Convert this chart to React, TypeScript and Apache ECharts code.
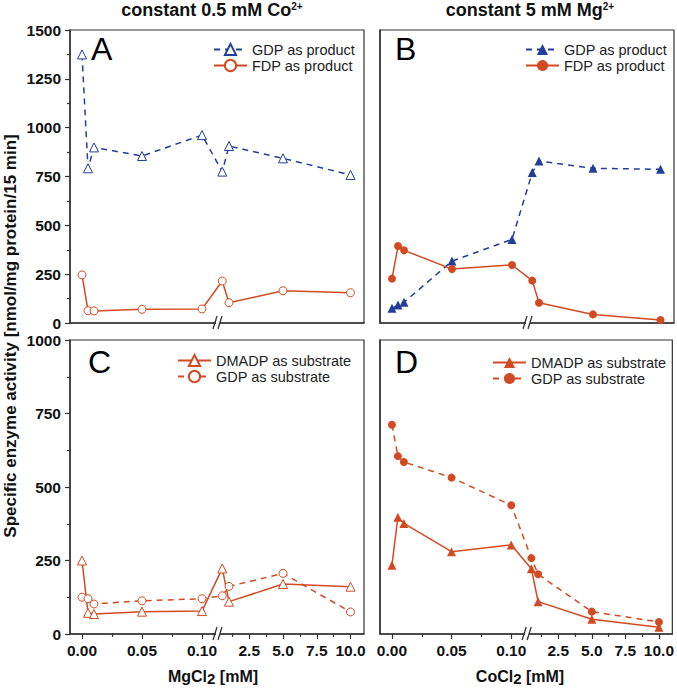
import React, { useEffect, useRef } from "react";
import * as echarts from "echarts";

// ---------- data ----------
const xValues = [0, 0.005, 0.01, 0.05, 0.1, 0.5, 1, 5, 10];

const aGdpProduct = [1375, 792, 899, 855, 962, 775, 906, 843, 758];
const aFdpProduct = [246, 63, 62, 70, 72, 215, 104, 165, 155];
const bGdpProduct = [75, 92, 106, 317, 428, 770, 829, 792, 787];
const bFdpProduct = [227, 394, 372, 276, 297, 217, 104, 44, 15];
const cDmadpSubstrate = [250, 72, 68, 76, 78, 223, 110, 170, 161];
const cGdpSubstrate = [125, 120, 102, 113, 120, 130, 162, 206, 75];
const dDmadpSubstrate = [234, 397, 376, 280, 303, 222, 110, 50, 23];
const dGdpSubstrate = [712, 605, 585, 532, 438, 258, 203, 76, 41];

const xTicksLeft = [0, 0.05, 0.1];
const xTickLabelsLeft = ["0.00", "0.05", "0.10"];
const xTicksRight = [2.5, 5, 7.5, 10];
const xTickLabelsRight = ["2.5", "5.0", "7.5", "10.0"];
const xMinorTicks = [0.025, 0.075, 1.25, 3.75, 6.25, 8.75];

const yMaxTop = 1500;
const yMaxBottom = 1000;
const yInterval = 250;

const titles = ["constant 0.5 mM Co", "constant 5 mM Mg"];
const panelLetters = ["A", "B", "C", "D"];
const yName = "Specific enzyme activity [nmol/mg protein/15 min]";

// ---------- broken axis scale ----------
const LEFT_OFFSET = 0.01;
const LEFT_SCALE = 1200;
const RIGHT_START = 145.5;
const RIGHT_SCALE = 13.5;
const AXIS_MAX = 294;
const BREAK_AT = 148;
const toAxis = (v: number) =>
  v <= 0.11 ? (v + LEFT_OFFSET) * LEFT_SCALE : RIGHT_START + v * RIGHT_SCALE;

const majorTicks = [...xTicksLeft, ...xTicksRight].map(toAxis);
const majorLabels = [...xTickLabelsLeft, ...xTickLabelsRight];
const minorTicks = xMinorTicks.map(toAxis);

const BLUE = "#223f97";
const RED = "#d24a22";
const AXIS = "#333";
const FONT = "'Liberation Sans', Arial, Helvetica, sans-serif";

const grids = [
  { left: 70, top: 30, width: 294, height: 293 },
  { left: 380, top: 30, width: 294, height: 293 },
  { left: 70, top: 340, width: 294, height: 294 },
  { left: 380, top: 340, width: 294, height: 294 },
];

function labelFor(v: number) {
  for (let i = 0; i < majorTicks.length; i++) {
    if (Math.abs(majorTicks[i] - v) < 1e-6) return majorLabels[i];
  }
  return "";
}

function series(
  name: string,
  ys: number[],
  idx: number,
  color: string,
  symbol: string,
  hollow: boolean,
  dashed: boolean
) {
  return {
    type: "line",
    name,
    xAxisIndex: idx,
    yAxisIndex: idx,
    data: xValues.map((x, i) => [toAxis(x), ys[i]]),
    symbol,
    symbolSize: symbol === "triangle" ? 9 : 8,
    showAllSymbol: true,
    lineStyle: { color, width: 1.5, type: dashed ? [6, 5] : "solid" },
    itemStyle: hollow
      ? { color: "#fff", borderColor: color, borderWidth: 1 }
      : { color, borderWidth: 0 },
    emphasis: { disabled: true },
  };
}

const legendFormatter = (n: string) => n.split("|")[0];

export default function App() {
  const ref = useRef<HTMLDivElement>(null);
  useEffect(() => {
    if (!ref.current) return;
    const chart = echarts.init(ref.current, undefined, { renderer: "svg" });

    const xAxes: any[] = [];
    for (let i = 0; i < 4; i++) {
      const bottomRow = i >= 2;
      xAxes.push({
        gridIndex: i,
        type: "value",
        min: 0,
        max: AXIS_MAX,
        position: "bottom",
        axisLine: { show: true, onZero: false, lineStyle: { color: AXIS, width: 1.5 } },
        axisTick: {
          show: bottomRow,
          length: 5,
          customValues: majorTicks,
          lineStyle: { color: AXIS, width: 1.2 },
        },
        axisLabel: {
          show: bottomRow,
          customValues: majorTicks,
          formatter: (v: number) => labelFor(v),
          fontSize: 15.5,
          fontWeight: "bold",
          fontFamily: FONT,
          color: "#111",
          margin: 8,
        },
        splitLine: { show: false },
      });
    }
    for (let i = 0; i < 4; i++) {
      const bottomRow = i >= 2;
      xAxes.push({
        gridIndex: i,
        type: "value",
        min: 0,
        max: AXIS_MAX,
        position: "bottom",
        show: bottomRow,
        axisLine: { show: false },
        axisTick: {
          show: true,
          length: 3,
          customValues: minorTicks,
          lineStyle: { color: AXIS, width: 1.2 },
        },
        axisLabel: { show: false },
        splitLine: { show: false },
      });
    }

    const yAxes = [0, 1, 2, 3].map((i) => {
      const leftCol = i % 2 === 0;
      return {
        gridIndex: i,
        type: "value",
        min: 0,
        max: i < 2 ? yMaxTop : yMaxBottom,
        interval: yInterval,
        axisLine: { show: true, onZero: false, lineStyle: { color: AXIS, width: 1.5 } },
        axisTick: { show: leftCol, length: 5, lineStyle: { color: AXIS, width: 1.2 } },
        minorTick: { show: leftCol, splitNumber: 2, length: 3, lineStyle: { color: AXIS, width: 1.2 } },
        axisLabel: {
          show: leftCol,
          formatter: (v: number) => String(v),
          fontSize: 15.5,
          fontWeight: "bold",
          fontFamily: FONT,
          color: "#111",
          margin: 9,
        },
        splitLine: { show: false },
        minorSplitLine: { show: false },
      };
    });

    const legendBase = {
      orient: "vertical",
      padding: 0,
      itemWidth: 33,
      itemHeight: 14,
      itemGap: 1,
      formatter: legendFormatter,
      textStyle: { fontSize: 14.5, fontFamily: FONT, color: "#222" },
      selectedMode: false,
    };

    chart.setOption({
      animation: false,
      textStyle: { fontFamily: FONT },
      grid: grids.map((g) => ({ ...g, show: true, borderColor: AXIS, borderWidth: 1.2, containLabel: false })),
      xAxis: xAxes,
      yAxis: yAxes,
      legend: [
        { ...legendBase, left: 213, top: 42, data: ["GDP as product|A", "FDP as product|A"] },
        { ...legendBase, left: 525, top: 42, data: ["GDP as product|B", "FDP as product|B"] },
        { ...legendBase, left: 177, top: 353, data: ["DMADP as substrate|C", "GDP as substrate|C"] },
        { ...legendBase, left: 492, top: 355, data: ["DMADP as substrate|D", "GDP as substrate|D"] },
      ],
      series: [
        series("GDP as product|A", aGdpProduct, 0, BLUE, "triangle", true, true),
        series("FDP as product|A", aFdpProduct, 0, RED, "circle", true, false),
        series("GDP as product|B", bGdpProduct, 1, BLUE, "triangle", false, true),
        series("FDP as product|B", bFdpProduct, 1, RED, "circle", false, false),
        series("DMADP as substrate|C", cDmadpSubstrate, 2, RED, "triangle", true, false),
        series("GDP as substrate|C", cGdpSubstrate, 2, RED, "circle", true, true),
        series("DMADP as substrate|D", dDmadpSubstrate, 3, RED, "triangle", false, false),
        series("GDP as substrate|D", dGdpSubstrate, 3, RED, "circle", false, true),
      ],
    });

    const graphics: any[] = [];
    // break markers
    for (let i = 0; i < 4; i++) {
      const p = chart.convertToPixel({ xAxisIndex: i, yAxisIndex: i } as any, [BREAK_AT, 0]) as number[];
      const bx = p[0];
      const by = p[1];
      graphics.push({
        type: "group",
        children: [
          { type: "rect", shape: { x: bx - 2, y: by - 2, width: 4, height: 4 }, style: { fill: "#fff" }, z: 100 },
          { type: "line", shape: { x1: bx - 5, y1: by + 6, x2: bx - 1, y2: by - 7 }, style: { stroke: AXIS, lineWidth: 1.3 }, z: 101 },
          { type: "line", shape: { x1: bx + 0, y1: by + 6, x2: bx + 4, y2: by - 7 }, style: { stroke: AXIS, lineWidth: 1.3 }, z: 101 },
        ],
      });
    }
    // panel letters
    const letterPos = [
      [91, 49],
      [395, 49],
      [88, 362],
      [395, 362],
    ];
    panelLetters.forEach((t, i) => {
      graphics.push({
        type: "text",
        x: letterPos[i][0],
        y: letterPos[i][1],
        z: 50,
        style: { text: t, fontSize: 32, fontFamily: FONT, fill: "#000", align: "left", verticalAlign: "middle" },
      });
    });
    // column titles
    const titleX = [212, 530];
    titles.forEach((t, i) => {
      graphics.push({
        type: "text",
        x: titleX[i],
        y: 11,
        z: 50,
        style: {
          text: `{m|${t}}{s|2+}`,
          align: "center",
          verticalAlign: "middle",
          fill: "#111",
          rich: {
            m: { fontSize: 18, fontWeight: "bold", fontFamily: FONT, lineHeight: 20, verticalAlign: "top", fill: "#111" },
            s: { fontSize: 10, fontWeight: "bold", fontFamily: FONT, lineHeight: 10, verticalAlign: "top", fill: "#111" },
          },
        },
      });
    });
    // x-axis names
    const xNames = [
      ["MgCl", 213],
      ["CoCl", 520],
    ] as [string, number][];
    xNames.forEach(([t, x]) => {
      graphics.push({
        type: "text",
        x,
        y: 677,
        z: 50,
        style: {
          text: `{m|${t}}{s|2}{m| [mM]}`,
          align: "center",
          verticalAlign: "middle",
          fill: "#111",
          rich: {
            m: { fontSize: 16, fontWeight: "bold", fontFamily: FONT, lineHeight: 18, verticalAlign: "top", fill: "#111" },
            s: { fontSize: 15, fontWeight: "bold", fontFamily: FONT, lineHeight: 17, padding: [7, 0, 0, 0], verticalAlign: "bottom", fill: "#111" },
          },
        },
      });
    });
    // y-axis name
    graphics.push({
      type: "text",
      x: 10,
      y: 336,
      rotation: Math.PI / 2,
      z: 50,
      style: {
        text: yName,
        fontSize: 17,
        fontWeight: "bold",
        fontFamily: FONT,
        fill: "#111",
        align: "center",
        verticalAlign: "middle",
      },
    });

    chart.setOption({ graphic: graphics });

    return () => chart.dispose();
  }, []);

  return (
    <div
      ref={ref}
      style={{ position: "absolute", left: 0, top: 0, width: 677, height: 693, background: "#fff" }}
    />
  );
}
